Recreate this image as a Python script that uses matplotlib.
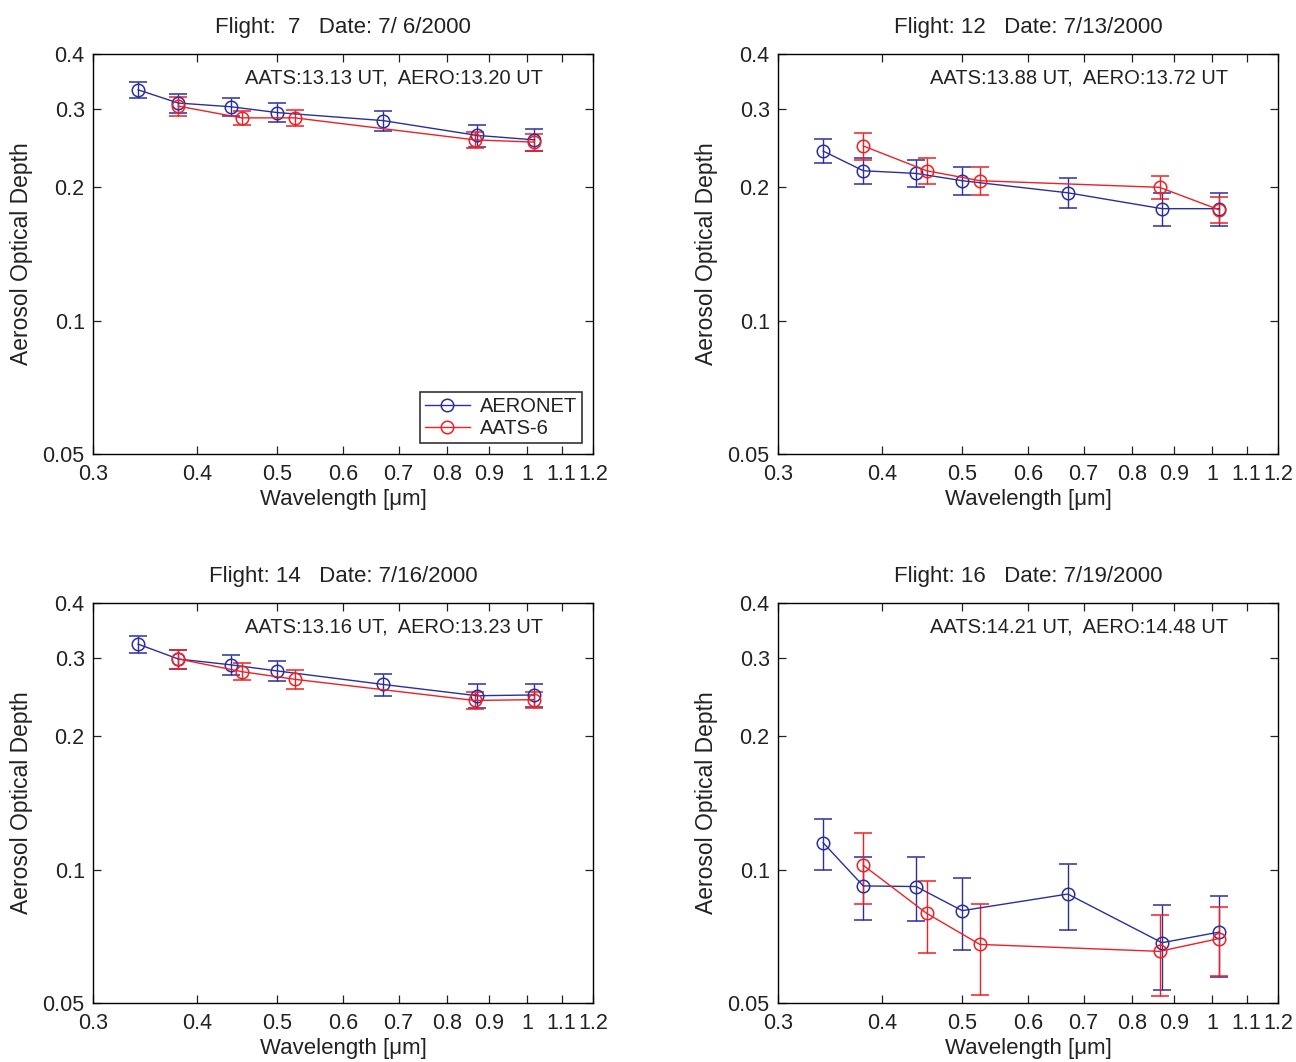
import matplotlib
matplotlib.use("Agg")
import matplotlib.pyplot as plt
from matplotlib.lines import Line2D
from matplotlib.ticker import FixedLocator, FixedFormatter, NullLocator

plt.rcParams['font.family'] = ['Liberation Sans', 'DejaVu Sans']

# ---- data ----
wl_aeronet = [0.340, 0.380, 0.440, 0.500, 0.670, 0.870, 1.020]
wl_aats = [0.380, 0.453, 0.525, 0.864, 1.019]

titles = ["Flight:  7   Date: 7/ 6/2000", "Flight: 12   Date: 7/13/2000",
          "Flight: 14   Date: 7/16/2000", "Flight: 16   Date: 7/19/2000"]
times = ["AATS:13.13 UT,  AERO:13.20 UT", "AATS:13.88 UT,  AERO:13.72 UT",
         "AATS:13.16 UT,  AERO:13.23 UT", "AATS:14.21 UT,  AERO:14.48 UT"]

aeronet_f7 = [0.332, 0.310, 0.304, 0.295, 0.283, 0.262, 0.256]
aeronet_f7_err = [0.0135, 0.015, 0.0145, 0.0145, 0.0145, 0.015, 0.015]
aats_f7 = [0.305, 0.287, 0.287, 0.256, 0.253]
aats_f7_err = [0.015, 0.011, 0.012, 0.011, 0.011]

aeronet_f12 = [0.2415, 0.218, 0.215, 0.207, 0.1944, 0.179, 0.179]
aeronet_f12_err = [0.015, 0.015, 0.015, 0.015, 0.015, 0.015, 0.015]
aats_f12 = [0.248, 0.218, 0.207, 0.200, 0.178]
aats_f12_err = [0.017, 0.015, 0.015, 0.012, 0.012]

aeronet_f14 = [0.323, 0.299, 0.290, 0.281, 0.262, 0.247, 0.248]
aeronet_f14_err = [0.0145, 0.015, 0.015, 0.015, 0.015, 0.015, 0.015]
aats_f14 = [0.299, 0.280, 0.269, 0.241, 0.242]
aats_f14_err = [0.015, 0.0125, 0.013, 0.0105, 0.010]

aeronet_f16 = [0.115, 0.0919, 0.0916, 0.0808, 0.0881, 0.0684, 0.0723]
aeronet_f16_err = [0.015, 0.015, 0.015, 0.015, 0.015, 0.015, 0.015]
aats_f16 = [0.1023, 0.0797, 0.0678, 0.0654, 0.0699]
aats_f16_err = [0.0186, 0.0147, 0.0158, 0.0135, 0.0125]

aeronet_all = [(aeronet_f7, aeronet_f7_err), (aeronet_f12, aeronet_f12_err),
               (aeronet_f14, aeronet_f14_err), (aeronet_f16, aeronet_f16_err)]
aats_all = [(aats_f7, aats_f7_err), (aats_f12, aats_f12_err),
            (aats_f14, aats_f14_err), (aats_f16, aats_f16_err)]

xticks = [0.3, 0.4, 0.5, 0.6, 0.7, 0.8, 0.9, 1.0, 1.1, 1.2]
xticklabels = ["0.3", "0.4", "0.5", "0.6", "0.7", "0.8", "0.9", "1", "1.1", "1.2"]
yticks = [0.05, 0.1, 0.2, 0.3, 0.4]
yticklabels = ["0.05", "0.1", "0.2", "0.3", "0.4"]

BLUE = '#2b2f9c'
RED = '#ee1f25'
TXT = '#222222'

fig = plt.figure(figsize=(12.96, 10.62), dpi=100)
W, H = 1296, 1062
boxes = [(93, 54), (778, 54), (93, 603), (778, 603)]
aw, ah = 500, 400

for i, (x0, y0) in enumerate(boxes):
    ax = fig.add_axes([x0 / W, 1 - (y0 + ah) / H, aw / W, ah / H])
    ax.set_xscale('log')
    ax.set_yscale('log')
    av, ae = aeronet_all[i]
    rv, re = aats_all[i]
    ax.errorbar(wl_aeronet, av, yerr=ae, color=BLUE, marker='o', mfc='none',
                ms=9, mew=1.1, lw=1.0, capsize=6.5, elinewidth=1.0, capthick=1.0)
    ax.errorbar(wl_aats, rv, yerr=re, color=RED, marker='o', mfc='none',
                ms=9, mew=1.1, lw=1.0, capsize=6.5, elinewidth=1.0, capthick=1.0)
    ax.set_xlim(0.3, 1.2)
    ax.set_ylim(0.05, 0.4)
    ax.xaxis.set_major_locator(FixedLocator(xticks))
    ax.xaxis.set_major_formatter(FixedFormatter(xticklabels))
    ax.xaxis.set_minor_locator(NullLocator())
    ax.yaxis.set_major_locator(FixedLocator(yticks))
    ax.yaxis.set_major_formatter(FixedFormatter(yticklabels))
    ax.yaxis.set_minor_locator(NullLocator())
    ax.tick_params(which='both', direction='in', top=True, right=True,
                   length=6, width=0.9, labelsize=15.5, colors=TXT)
    ax.tick_params(axis='x', pad=7.5)
    ax.tick_params(axis='y', pad=6)
    for s in ax.spines.values():
        s.set_linewidth(1.0)
    ax.set_title(titles[i], fontsize=16, pad=15, color=TXT)
    ax.set_xlabel('Wavelength [\u03bcm]', fontsize=16, color=TXT)
    ax.set_ylabel('Aerosol Optical Depth', fontsize=16.5, color=TXT)
    ax.xaxis.set_label_coords(0.5, -0.087)
    ax.yaxis.set_label_coords(-0.12, 0.5)
    ax.text(0.9, 0.94, times[i], transform=ax.transAxes, ha='right', va='center',
            fontsize=14.5, color=TXT)
    if i == 0:
        handles = [Line2D([], [], color=BLUE, marker='o', mfc='none', ms=9, mew=1.1, lw=1.0),
                   Line2D([], [], color=RED, marker='o', mfc='none', ms=9, mew=1.1, lw=1.0)]
        leg = ax.legend(handles, ['AERONET', 'AATS-6'], loc='lower right',
                        bbox_to_anchor=(0.978, 0.0275), borderaxespad=0,
                        fontsize=14.5, frameon=True, fancybox=False, edgecolor='black',
                        handlelength=2.2, borderpad=0.25, labelspacing=0.15,
                        handletextpad=0.5)
        leg.get_frame().set_linewidth(1.2)
        for t in leg.get_texts():
            t.set_color(TXT)

fig.savefig('out.png', dpi=100)
